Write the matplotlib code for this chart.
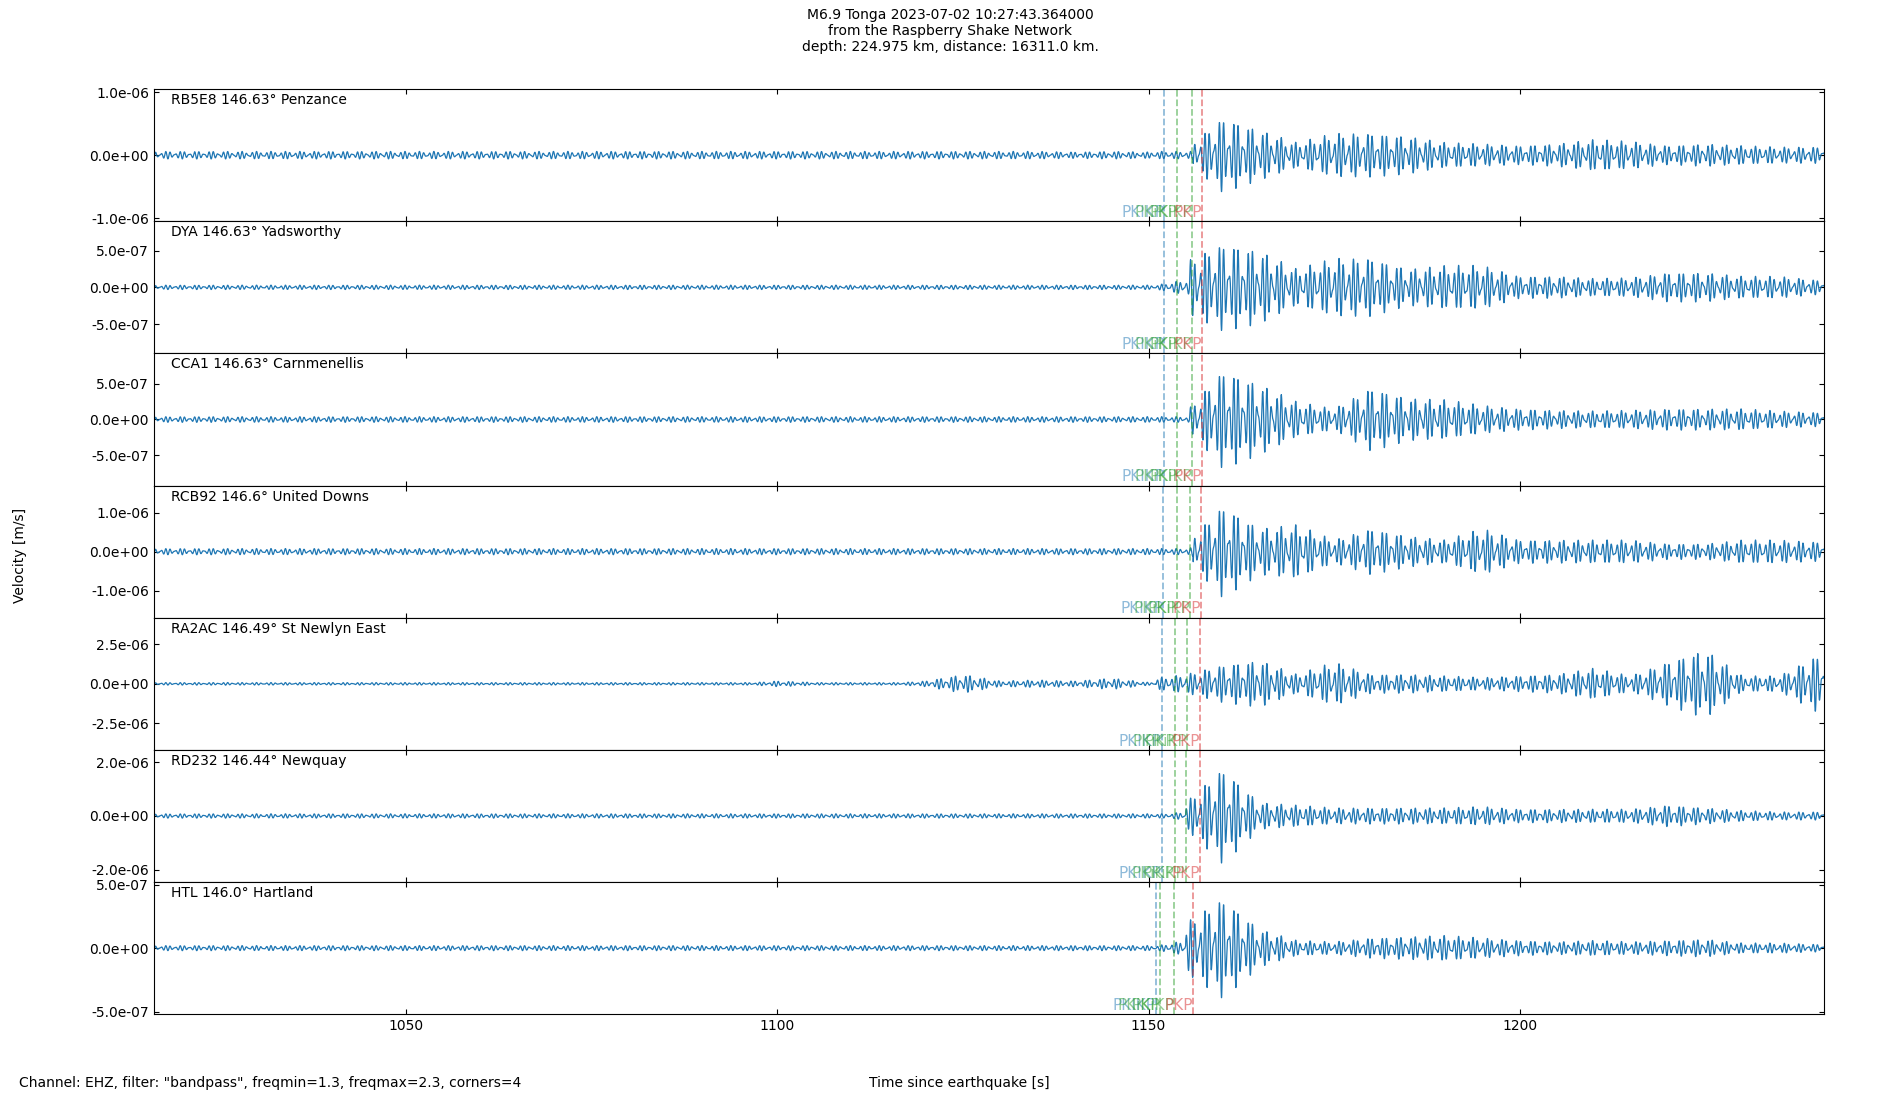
#!/usr/bin/env python3
"""Raspberry Shake record section of the M6.9 Tonga event (redrawn)."""

import matplotlib
matplotlib.use("Agg")
import matplotlib.pyplot as plt
import numpy as np

# envelope sample times (s since earthquake)
TIMES = [1015, 1020, 1025, 1030, 1035, 1040, 1045, 1050, 1055, 1060, 1065, 1070,
         1075, 1080, 1085, 1090, 1095, 1100, 1105, 1110, 1115, 1120, 1125, 1130,
         1135, 1140, 1145, 1150, 1155, 1160, 1165, 1170, 1175, 1180, 1185, 1190,
         1195, 1200, 1205, 1210, 1215, 1220, 1225, 1230, 1235, 1240]

STATIONS = ["RB5E8 146.63° Penzance", "DYA 146.63° Yadsworthy", "CCA1 146.63° Carnmenellis",
            "RCB92 146.6° United Downs", "RA2AC 146.49° St Newlyn East",
            "RD232 146.44° Newquay", "HTL 146.0° Hartland"]

# amplitude envelopes, in units of 1e-7 m/s
ENV_RB5E8 = [0.6, 0.6, 0.6, 0.8, 0.6, 0.9, 0.6, 0.6, 0.6, 0.6, 0.6, 0.6, 0.6, 0.6, 0.8, 0.6,
             0.6, 0.8, 0.6, 0.6, 0.6, 0.6, 0.6, 0.6, 0.6, 0.5, 0.6, 0.5,
             1.0, 6.0, 4.0, 2.0, 3.5, 3.5, 3.0, 2.0, 1.8, 1.5, 1.8, 2.5, 2.2, 1.5, 1.8, 1.5, 1.3, 1.3]
ENV_DYA = [0.3] * 28 + [3.5, 6.0, 5.0, 2.5, 4.0, 4.0, 2.5, 3.0, 3.0, 1.5, 1.5, 1.2, 1.3, 2.0, 2.0,
                         1.5, 1.5, 1.0]
ENV_CCA1 = [0.4] * 28 + [1.0, 7.0, 5.0, 2.5, 1.5, 4.5, 3.0, 2.8, 2.0, 1.5, 1.3, 1.2, 1.3, 1.5, 1.5,
                          1.5, 1.2, 1.0]
ENV_RCB92 = [0.8] * 28 + [2.0, 12.0, 6.0, 7.0, 3.0, 6.0, 4.0, 3.0, 6.0, 3.0, 3.0, 3.0, 3.0, 2.0,
                           2.0, 3.0, 3.0, 2.5]
ENV_RA2AC = [0.8, 0.8, 3.0, 2.0, 0.8, 0.8, 0.8, 0.8, 0.8, 0.8, 0.8, 1.0, 0.8, 0.8, 0.8, 0.8,
             0.8, 6.0, 3.0, 0.8, 1.0, 6.0, 20.0, 6.0, 8.0, 6.0, 12.0, 3.0,
             6.0, 12.0, 15.0, 6.0, 14.0, 6.0, 6.0, 5.0, 4.0, 5.0, 6.0, 10.0, 5.0, 14.0, 22.0,
             5.0, 5.0, 18.0]
ENV_RD232 = [0.8] * 11 + [1.5] + [0.8] * 16 + [5.0, 18.0, 5.0, 4.0, 3.0, 3.0, 3.0, 3.0, 3.5, 2.5,
                                                2.5, 2.5, 2.5, 4.0, 3.0, 2.0, 1.5, 1.5]
ENV_HTL = [0.2] * 28 + [2.0, 4.0, 1.5, 0.6, 0.5, 0.8, 0.9, 1.0, 0.8, 0.6, 0.5, 0.6, 0.5, 0.6, 0.7,
                        0.4, 0.4, 0.3]
ENVELOPES = [ENV_RB5E8, ENV_DYA, ENV_CCA1, ENV_RCB92, ENV_RA2AC, ENV_RD232, ENV_HTL]

# first-motion time of each trace (s)
ONSETS = [1156.0, 1155.5, 1155.5, 1156.0, 1151.0, 1155.0, 1155.0]
# y-limits (half-range, m/s) and tick values
YLIM = [1.05e-6, 9.0e-7, 9.3e-7, 1.7e-6, 4.2e-6, 2.45e-6, 5.2e-7]
YTICKS = [[-1e-6, 0, 1e-6], [-5e-7, 0, 5e-7], [-5e-7, 0, 5e-7], [-1e-6, 0, 1e-6],
          [-2.5e-6, 0, 2.5e-6], [-2e-6, 0, 2e-6], [-5e-7, 0, 5e-7]]

# theoretical arrivals per station (s)
PHASES = ["PKIKP", "PKiKP", "PKiKP", "PKP"]
PHASE_COLORS = ["#1f77b4", "#2ca02c", "#2ca02c", "#d62728"]
ARRIVALS = [[1152.1, 1153.9, 1155.9, 1157.2],
            [1152.1, 1153.9, 1155.9, 1157.2],
            [1152.1, 1153.9, 1155.9, 1157.2],
            [1152.0, 1153.8, 1155.6, 1157.1],
            [1151.8, 1153.6, 1155.2, 1157.0],
            [1151.8, 1153.5, 1155.0, 1156.9],
            [1151.0, 1151.6, 1153.4, 1156.0]]


def trace(env, onset):
    t = np.arange(TIMES[0], TIMES[-1] + 1, 0.02)
    e = np.interp(t, TIMES, env) * 1e-7
    noise_level = env[0] * 1e-7
    e = np.where(t < onset, np.minimum(e, np.maximum(noise_level, e * 0.3)), e)
    carrier = 0.6 * np.sin(2 * np.pi * 1.55 * t) + 0.4 * np.sin(2 * np.pi * 2.05 * t + 0.7)
    return t, e * carrier


fig, axes = plt.subplots(len(STATIONS), 1, figsize=(19, 11), dpi=100, sharex=True)
fig.subplots_adjust(left=0.081, right=0.971 - 0.011, top=0.919, bottom=0.078, hspace=0)

for i, ax in enumerate(axes):
    t, y = trace(ENVELOPES[i], ONSETS[i])
    ax.plot(t, y, color="#1f77b4", linewidth=0.9)
    ax.set_xlim(1016, 1241)
    ax.set_ylim(-YLIM[i], YLIM[i])
    ax.set_yticks(YTICKS[i])
    ax.set_yticklabels([f"{v:.1e}" for v in YTICKS[i]])
    ax.tick_params(direction="in", top=True, right=True, labelsize=10)
    ax.text(0.01, 0.97, STATIONS[i], transform=ax.transAxes, va="top", ha="left", fontsize=10)
    for name, col, tt in zip(PHASES, PHASE_COLORS, ARRIVALS[i]):
        ax.axvline(tt, color=col, linestyle="--", alpha=0.5, linewidth=1.3)
        ax.text(tt, -YLIM[i] * 0.98, name, color=col, alpha=0.5, ha="right", va="bottom",
                fontsize=11)

axes[-1].set_xticks([1050, 1100, 1150, 1200])
axes[-1].tick_params(labelsize=10)

fig.suptitle("M6.9 Tonga 2023-07-02 10:27:43.364000\nfrom the Raspberry Shake Network\n"
             "depth: 224.975 km, distance: 16311.0 km.", fontsize=10, y=0.993)
fig.text(0.007, 0.495, "Velocity [m/s]", rotation=90, va="center", fontsize=10)
fig.text(0.505, 0.009, "Time since earthquake [s]", ha="center", va="bottom", fontsize=10)
fig.text(0.01, 0.009, 'Channel: EHZ, filter: "bandpass", freqmin=1.3, freqmax=2.3, corners=4',
         ha="left", va="bottom", fontsize=10)

fig.savefig("out.png", dpi=100)
